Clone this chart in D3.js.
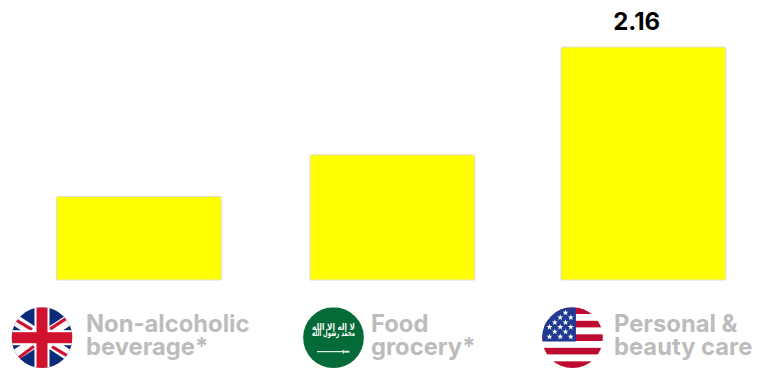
<!DOCTYPE html>
<html>
<head>
<meta charset="utf-8">
<style>
html,body{margin:0;padding:0;background:#fff}
svg{display:block}
text{font-family:Inter,"Noto Sans",sans-serif}
</style>
<script src="https://cdn.jsdelivr.net/npm/d3@7"></script>
</head>
<body>
<svg id="chart" width="764" height="370"></svg>
<script>
const categories = ["Non-alcoholic beverage*", "Food grocery*", "Personal & beauty care"];
const values = [0.775, 1.16, 2.16];
const valueLabels = [null, null, "2.16"];
const labelLines = [["Non-alcoholic", "beverage*"], ["Food", "grocery*"], ["Personal &", "beauty care"]];
const flags = ["uk", "sa", "us"];
const barLefts = [56.5, 310, 561];
const barWidth = 164.8;

const svg = d3.select("#chart");
const defs = svg.append("defs");

const x = d3.scaleOrdinal().domain(categories).range(barLefts);
const y = d3.scaleLinear().domain([0, 2.16]).range([280, 47]);

// Bars with a faint grey edge and slightly rounded upper corners
function barPath(d, c) {
  const x0 = x(c), x1 = x0 + barWidth, t = y(d), b = y(0), r = 2;
  const p = d3.path();
  p.moveTo(x0, b);
  p.lineTo(x0, t + r);
  p.quadraticCurveTo(x0, t, x0 + r, t);
  p.lineTo(x1 - r, t);
  p.quadraticCurveTo(x1, t, x1, t + r);
  p.lineTo(x1, b);
  p.closePath();
  return p.toString();
}

svg.append("g").selectAll("path").data(values).join("path")
  .attr("d", (d, i) => barPath(d, categories[i]))
  .attr("fill", "#ffff00")
  .attr("stroke", "#dcdcd4")
  .attr("stroke-width", 1);

// Value label above a bar where one is stated; it sits a little left of the bar's centre
svg.append("g").selectAll("text").data(values.filter((d, i) => valueLabels[i])).join("text")
  .attr("x", d => x(categories[values.indexOf(d)]) + barWidth / 2 - 6.7)
  .attr("y", d => y(d) - 17)
  .attr("text-anchor", "middle")
  .attr("font-size", 24)
  .attr("font-weight", 700)
  .attr("fill", "#000")
  .text(d => valueLabels[values.indexOf(d)]);

// Circular flag badges
const flagCentres = [[42, 337.7], [333.5, 337.7], [572.5, 337.7]];
const R = 30.4;

function clipped(g, id) {
  defs.append("clipPath").attr("id", id).append("circle").attr("r", R);
  return g.append("g").attr("clip-path", `url(#${id})`);
}

function drawUK(g) {
  const f = clipped(g, "clip-uk");
  f.append("rect").attr("x", -R).attr("y", -R).attr("width", 2 * R).attr("height", 2 * R).attr("fill", "#0a2a7a");
  const whiteDiagonals = [[-R, -R * 0.66, R, R * 0.66], [-R, R * 0.66, R, -R * 0.66]];
  f.selectAll("line.w").data(whiteDiagonals).join("line").attr("class", "w")
    .attr("x1", d => d[0]).attr("y1", d => d[1]).attr("x2", d => d[2]).attr("y2", d => d[3])
    .attr("stroke", "#fff").attr("stroke-width", 11);
  const redDiagonals = [[-30, -20, -10, -8], [8, -8.5, 30, -23], [-30, 25, -8, 8.5], [10, 9, 30, 21]];
  f.selectAll("line.r").data(redDiagonals).join("line").attr("class", "r")
    .attr("x1", d => d[0]).attr("y1", d => d[1]).attr("x2", d => d[2]).attr("y2", d => d[3])
    .attr("stroke", "#d0122f").attr("stroke-width", 3.2);
  f.append("rect").attr("x", -7.5).attr("y", -R).attr("width", 15).attr("height", 2 * R).attr("fill", "#fff");
  f.append("rect").attr("x", -R).attr("y", -7.5).attr("width", 2 * R).attr("height", 15).attr("fill", "#fff");
  f.append("rect").attr("x", -5.5).attr("y", -R).attr("width", 11).attr("height", 2 * R).attr("fill", "#d0122f");
  f.append("rect").attr("x", -R).attr("y", -5.5).attr("width", 2 * R).attr("height", 11).attr("fill", "#d0122f");
}

function drawSA(g) {
  const f = clipped(g, "clip-sa");
  f.append("rect").attr("x", -R).attr("y", -R).attr("width", 2 * R).attr("height", 2 * R).attr("fill", "#046a38");
  // The shahada is set on two tightly packed rows to form one dense block
  const rows = ["لا إله إلا الله", "محمد رسول الله"];
  f.append("g").attr("opacity", 0.99).selectAll("text").data(rows).join("text")
    .attr("x", 0).attr("y", (d, i) => -8.2 + i * 6.5).attr("text-anchor", "middle")
    .attr("font-size", 9).attr("font-weight", 700).attr("fill", "#fff")
    .style("font-family", "'DejaVu Sans'")
    .attr("textLength", 43).attr("lengthAdjust", "spacingAndGlyphs")
    .text(d => d);
  f.append("rect").attr("x", -16.5).attr("y", 13.4).attr("width", 26).attr("height", 1.1).attr("fill", "#fff");
  f.append("rect").attr("x", 9.2).attr("y", 12.2).attr("width", 1.2).attr("height", 3.6).attr("fill", "#e8f2ec");
  f.append("rect").attr("x", 10.6).attr("y", 13).attr("width", 5.4).attr("height", 2).attr("fill", "#d8e8de");
}

function drawUS(g) {
  const f = clipped(g, "clip-us");
  const stripe = d3.scaleBand().domain(d3.range(9)).range([-R, R]);
  f.selectAll("rect.s").data(d3.range(9)).join("rect").attr("class", "s")
    .attr("x", -R).attr("width", 2 * R).attr("y", d => stripe(d))
    .attr("height", stripe.bandwidth() + 0.1)
    .attr("fill", d => d % 2 ? "#fff" : "#bf0a30");
  f.append("rect").attr("x", -R).attr("y", -R).attr("width", R + 3.4).attr("height", 34.2).attr("fill", "#1f3a93");
  const star = d3.symbol().type(d3.symbolStar).size(12);
  const starSpots = [[-7,-25],[-12.3,-20.3],[-1.7,-20.3],[-17.7,-15.3],[-7,-15.3],[-23,-10.7],[-12.3,-10.7],[-1.7,-10.7],[-17.7,-6],[-7,-6],[-23,-1],[-12.3,-1],[-1.7,-1]];
  f.selectAll("path.star").data(starSpots).join("path").attr("class", "star")
    .attr("d", star).attr("transform", d => `translate(${d[0]},${d[1]})`).attr("fill", "#fff");
}

const drawers = { uk: drawUK, sa: drawSA, us: drawUS };
flags.forEach((k, i) => {
  const g = svg.append("g").attr("transform", `translate(${flagCentres[i][0]},${flagCentres[i][1]})`);
  drawers[k](g);
});

// Two-line category captions beside each badge
const captionX = [86, 371, 614];
const captionRows = labelLines.flatMap((lines, i) => lines.map((s, j) => ({ s, i, j })));
svg.append("g").selectAll("text").data(captionRows).join("text")
  .attr("x", d => captionX[d.i])
  .attr("y", d => 332 + d.j * 23)
  .attr("font-size", 23.75)
  .attr("font-weight", 700)
  .attr("fill", "#bcbcbc")
  .text(d => d.s);
</script>
</body>
</html>
